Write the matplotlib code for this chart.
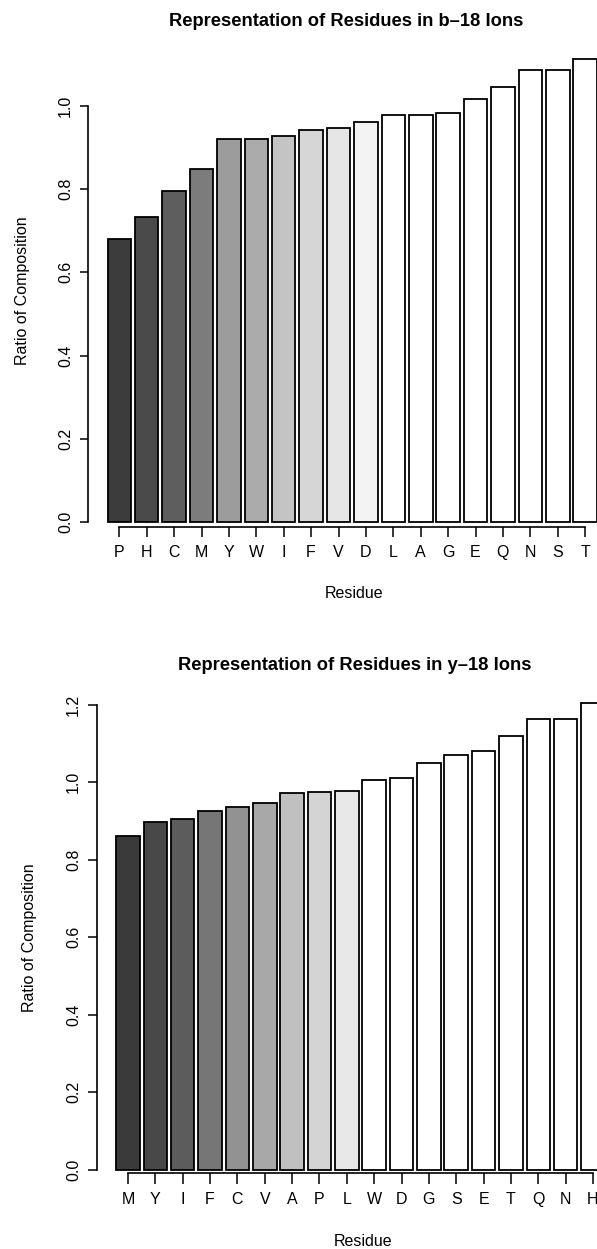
import matplotlib
matplotlib.use("Agg")
import matplotlib.pyplot as plt

plt.rcParams['font.family'] = ['Liberation Sans', 'DejaVu Sans']

# ---- data ----
b_residues = ["P", "H", "C", "M", "Y", "W", "I", "F", "V", "D", "L", "A", "G", "E", "Q", "N", "S", "T"]
b_ratios = [0.679, 0.733, 0.795, 0.848, 0.920, 0.920, 0.928, 0.941, 0.946, 0.962,
            0.978, 0.978, 0.982, 1.016, 1.045, 1.086, 1.086, 1.113]
y_residues = ["M", "Y", "I", "F", "C", "V", "A", "P", "L", "W", "D", "G", "S", "E", "T", "Q", "N", "H"]
y_ratios = [0.860, 0.896, 0.905, 0.924, 0.936, 0.945, 0.971, 0.974, 0.977, 1.004,
            1.011, 1.048, 1.070, 1.081, 1.118, 1.162, 1.162, 1.204]
b_yticks = [0.0, 0.2, 0.4, 0.6, 0.8, 1.0]
y_yticks = [0.0, 0.2, 0.4, 0.6, 0.8, 1.0, 1.2]

# ---- styles ----
b_colors = ["#3c3c3c", "#4a4a4a", "#5e5e5e", "#7c7c7c", "#9c9c9c", "#ababab", "#c4c4c4",
            "#d6d6d6", "#e6e6e6", "#f3f3f3"] + ["#ffffff"] * 8
y_colors = ["#3a3a3a", "#484848", "#5c5c5c", "#767676", "#929292", "#a8a8a8", "#c0c0c0",
            "#d4d4d4", "#e8e8e8"] + ["#ffffff"] * 9

W, H = 597, 1249
fig = plt.figure(figsize=(W / 100, H / 100), dpi=100)


def box(l, t, r, b):
    return [l / W, 1 - b / H, (r - l) / W, (b - t) / H]


def draw(ax, labels, vals, colors, yticks, ylim, xlim, spine_y, xtick_len, ytick_len):
    x = list(range(len(labels)))
    ax.bar(x, vals, width=0.86, color=colors, edgecolor="black", linewidth=1.3)
    ax.set_xlim(*xlim)
    ax.set_ylim(*ylim)
    for s in ("top", "right"):
        ax.spines[s].set_visible(False)
    ax.spines["left"].set_bounds(yticks[0], yticks[-1])
    ax.spines["left"].set_linewidth(1.2)
    ax.spines["bottom"].set_position(("data", spine_y))
    ax.spines["bottom"].set_bounds(0, len(labels) - 1)
    ax.spines["bottom"].set_linewidth(1.2)
    ax.set_xticks(x)
    ax.set_xticklabels(labels)
    ax.set_yticks(yticks)
    ax.set_yticklabels([f"{v:.1f}" for v in yticks], rotation=90, va="center")
    ax.tick_params(axis="x", length=xtick_len, width=1.1, pad=6, labelsize=11.5)
    ax.tick_params(axis="y", length=ytick_len, width=1.1, pad=5, labelsize=11.5)
    ax.patch.set_alpha(0)


ax1 = fig.add_axes(box(88, 40.6, 612, 540.5))
draw(ax1, b_residues, b_ratios, b_colors, b_yticks,
     (-0.0445, 1.157), (-1.142, 17.98), -0.012, 7.2, 5.8)

ax2 = fig.add_axes(box(97, 684, 625, 1188))
draw(ax2, y_residues, y_ratios, y_colors, y_yticks,
     (-0.0477, 1.253), (-1.133, 18.17), -0.009, 8.0, 6.4)


def ftext(x, y, s, **kw):
    fig.text(x / W, 1 - y / H, s, ha="center", va="center", **kw)


ftext(346, 22, "Representation of Residues in b–18 Ions", fontsize=13.2, fontweight="bold")
ftext(354, 593, "Residue", fontsize=11.5)
ftext(23, 291, "Ratio of Composition", fontsize=11.5, rotation=90)

ftext(355, 665, "Representation of Residues in y–18 Ions", fontsize=13.2, fontweight="bold")
ftext(363, 1241, "Residue", fontsize=11.5)
ftext(30, 938, "Ratio of Composition", fontsize=11.5, rotation=90)

fig.savefig("out.png", dpi=100)
